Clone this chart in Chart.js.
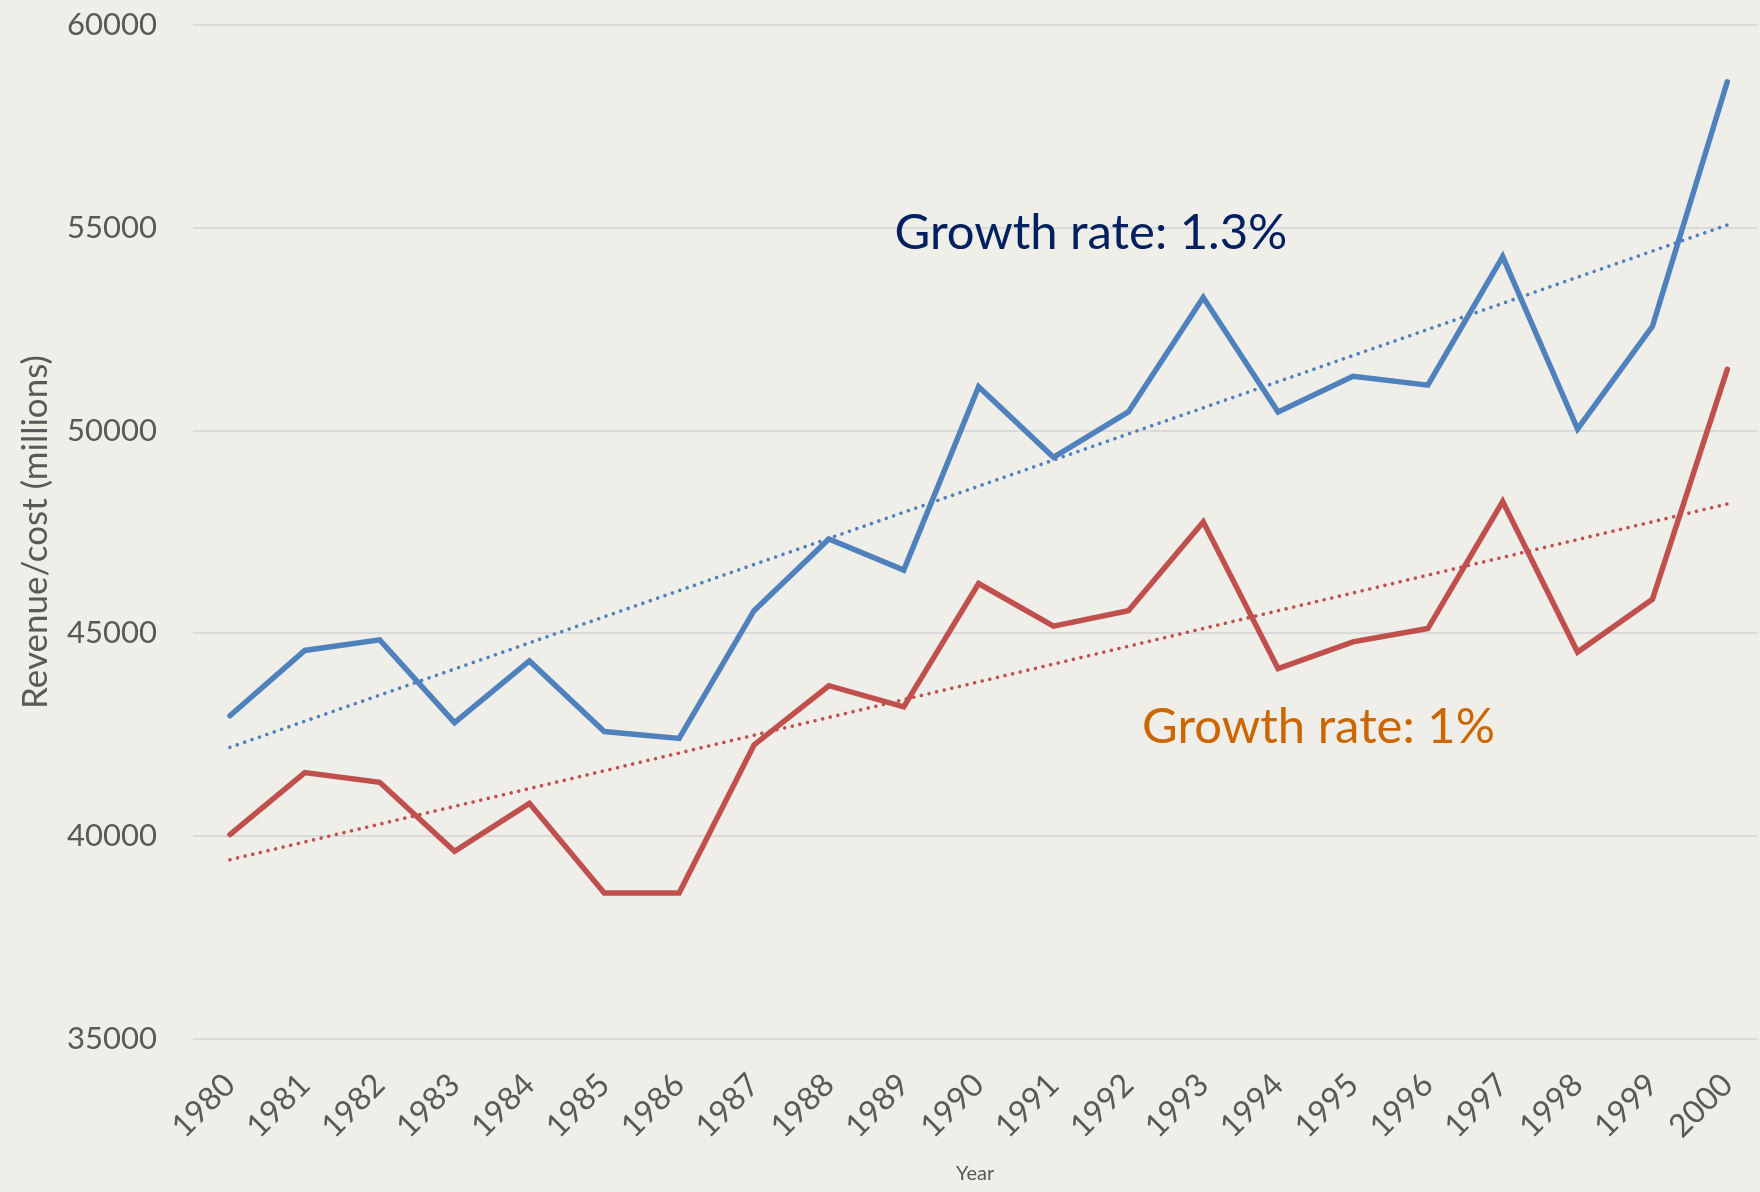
<!DOCTYPE html>
<html>
<head>
<meta charset="utf-8">
<script src="https://cdn.jsdelivr.net/npm/chart.js@4/dist/chart.umd.min.js"></script>
<style>
  html, body { margin: 0; padding: 0; background: #efeee9; overflow: hidden; }
  #wrap { width: 1760px; height: 1192px; }
</style>
</head>
<body>
<div id="wrap"><canvas id="chart" width="1760" height="1192"></canvas></div>
<script>
/* ========================================
   Revenue / cost 1980-2000
   ======================================== */

const years = [1980, 1981, 1982, 1983, 1984, 1985, 1986, 1987, 1988, 1989, 1990,
  1991, 1992, 1993, 1994, 1995, 1996, 1997, 1998, 1999, 2000];

const revenue = [42970, 44580, 44840, 42800, 44320, 42580, 42410, 45560, 47330, 46560, 51080,
  49340, 50460, 53280, 50460, 51340, 51120, 54290, 50040, 52570, 58600];

const cost = [40040, 41570, 41330, 39630, 40810, 38600, 38600, 42250, 43710, 43190, 46230,
  45180, 45560, 47750, 44130, 44790, 45120, 48250, 44540, 45840, 51510];

// trend line end points (first and last year)
const revenueTrend = [42190, 55070];
const costTrend = [39420, 48190];

const yTicks = [35000, 40000, 45000, 50000, 55000, 60000];

const FONT = "Lato, 'Noto Sans', sans-serif";
const BLUE = "#4f81bd";
const RED = "#c0504d";

// target plot box (pixels)
const AREA_TOP = 25;
const AREA_LEFT = 193;
const FIRST_X = 230;
const YEAR_STEP = 75;

const toPoints = (vals) => vals.map((v, i) => ({ x: years[i], y: v }));
const trendPoints = (ends) => [
  { x: years[0], y: ends[0] },
  { x: years[years.length - 1], y: ends[1] },
];

/**
 * Draw the two growth-rate notes in data coordinates.
 */
const notesPlugin = {
  id: "notes",
  afterDatasetsDraw(chart) {
    const { ctx, scales } = chart;
    const notes = [
      { text: "Growth rate: 1.3%", x: 1991.5, y: 54870, color: "#002060" },
      { text: "Growth rate: 1%", x: 1994.54, y: 42690, color: "#cc6600" },
    ];
    ctx.save();
    ctx.font = `49px ${FONT}`;
    ctx.textAlign = "center";
    ctx.textBaseline = "middle";
    notes.forEach((n) => {
      ctx.fillStyle = n.color;
      ctx.fillText(n.text, scales.x.getPixelForValue(n.x), scales.y.getPixelForValue(n.y));
    });
    ctx.restore();
  },
};

const mainLine = (label, vals, color) => ({
  label,
  data: toPoints(vals),
  borderColor: color,
  borderWidth: 5.5,
  borderCapStyle: "round",
  borderJoinStyle: "miter",
  pointRadius: 0,
  tension: 0,
});

const trendLine = (label, ends, color) => ({
  label,
  data: trendPoints(ends),
  borderColor: color,
  borderWidth: 3.6,
  borderCapStyle: "round",
  borderDash: [0.01, 7.8],
  pointRadius: 0,
});

const ctx = document.getElementById("chart").getContext("2d");

const chart = new Chart(ctx, {
  type: "line",
  data: {
    datasets: [
      mainLine("Revenue", revenue, BLUE),
      mainLine("Cost", cost, RED),
      trendLine("Revenue trend", revenueTrend, BLUE),
      trendLine("Cost trend", costTrend, RED),
    ],
  },
  options: {
    responsive: false,
    animation: false,
    layout: { padding: { top: AREA_TOP, right: 0, bottom: 0, left: 0 } },
    plugins: {
      legend: { display: false },
      tooltip: { enabled: false },
    },
    scales: {
      x: {
        type: "linear",
        min: 1979.5,
        max: 2000.39,
        afterBuildTicks: (scale) => {
          scale.ticks = years.map((v) => ({ value: v }));
        },
        afterFit: (scale) => {
          scale.height = 153;
          scale.paddingLeft = 0;
          scale.paddingRight = 0;
        },
        grid: { display: false, drawTicks: false },
        border: { display: false },
        ticks: {
          color: "#595959",
          font: { family: FONT, size: 32 },
          minRotation: 45,
          maxRotation: 45,
          autoSkip: false,
          padding: 27,
          callback: (val) => String(val),
        },
        title: {
          display: true,
          text: "Year",
          color: "#595959",
          font: { family: FONT, size: 20 },
          padding: { top: 0, bottom: 6 },
        },
      },
      y: {
        min: 35000,
        max: 60000,
        afterBuildTicks: (scale) => {
          scale.ticks = yTicks.map((v) => ({ value: v }));
        },
        afterFit: (scale) => {
          scale.width = AREA_LEFT;
          scale.paddingTop = 0;
          scale.paddingBottom = 0;
        },
        grid: { color: "#d9d9d9", lineWidth: 2, drawTicks: false },
        border: { display: false },
        ticks: {
          color: "#595959",
          font: { family: FONT, size: 31 },
          padding: 36,
          callback: (val) => String(val),
        },
        title: {
          display: true,
          text: "Revenue/cost (millions)",
          color: "#595959",
          font: { family: FONT, size: 35 },
          padding: { top: 15, bottom: 0 },
        },
      },
    },
  },
  plugins: [notesPlugin],
});

// nudge the plot box onto the reference position
const area = chart.chartArea;
const xOpts = chart.options.scales.x;
chart.options.layout.padding.top += AREA_TOP - area.top;
xOpts.min = 1980 - (FIRST_X - area.left) / YEAR_STEP;
xOpts.max = xOpts.min + (area.right - area.left) / YEAR_STEP;
chart.update();
</script>
</body>
</html>
